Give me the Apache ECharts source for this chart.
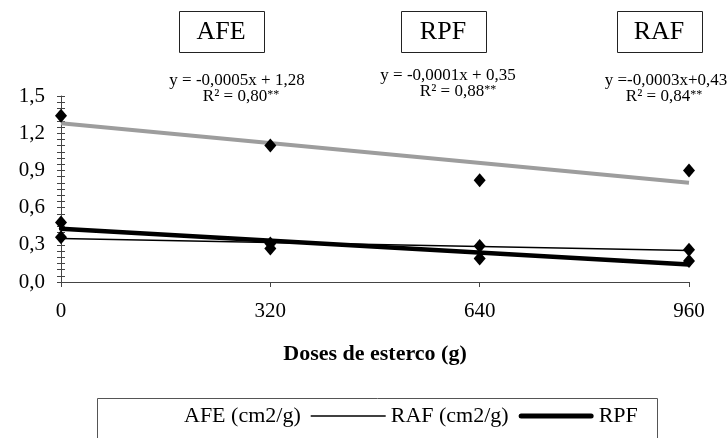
<!DOCTYPE html>
<html>
<head>
<meta charset="utf-8">
<script src="https://cdn.jsdelivr.net/npm/echarts@6/dist/echarts.min.js"></script>
<style>html,body{margin:0;padding:0;background:#fff;}#c{width:728px;height:438px;}</style>
</head>
<body>
<div id="c"></div>
<script>
// ---- data ----
var doses = [0, 320, 640, 960];
var afeObs = [1.34, 1.10, 0.82, 0.90];
var rafObs = [0.36, 0.31, 0.29, 0.26];
var rpfObs = [0.48, 0.27, 0.19, 0.17];
var trendX = [0, 960];
var afeTrend = [1.28, 0.80];
var rafTrend = [0.35, 0.254];
var rpfTrend = [0.43, 0.142];
var seriesNames = ['AFE (cm2/g)', 'RAF (cm2/g)', 'RPF'];
var boxLabels = ['AFE', 'RPF', 'RAF'];
var equations = ['y = -0,0005x + 1,28', 'y = -0,0001x + 0,35', 'y =-0,0003x+0,43'];
var r2Values = ['0,80', '0,88', '0,84'];
var yTicks = {min: 0, max: 1.5, interval: 0.3};
var xTicks = {min: 0, max: 960, interval: 320};

function pairs(xs, ys) { return xs.map(function (x, i) { return [x, ys[i]]; }); }

var FONT = '"Liberation Serif", "Times New Roman", serif';
var chart = echarts.init(document.getElementById('c'), null, {renderer: 'canvas'});

var boxCx = [221, 443, 659];
var eqCx = [237, 448, 666];
var eqY = [81, 76, 81];
var r2Cx = [241, 458, 664];
var graphics = [];
boxLabels.forEach(function (t, i) {
  graphics.push({type: 'rect', left: boxCx[i] - 42, top: 11, shape: {x: 0, y: 0, width: 85, height: 41},
    style: {fill: '#fff', stroke: '#222', lineWidth: 1}, z: 10});
  graphics.push({type: 'text', x: boxCx[i], y: 32, style: {text: t, font: '26px ' + FONT, fill: '#000',
    textAlign: 'center', textVerticalAlign: 'middle'}, z: 11});
  graphics.push({type: 'text', x: eqCx[i], y: eqY[i], style: {text: equations[i], font: '17px ' + FONT, fill: '#000',
    textAlign: 'center', textVerticalAlign: 'middle'}, z: 11});
  graphics.push({type: 'text', x: r2Cx[i], y: eqY[i] + 16, style: {
    text: 'R² = ' + r2Values[i] + '{s|**}', fontFamily: FONT, fontSize: 17, fill: '#000',
    rich: {s: {fontFamily: FONT, fontSize: 12, verticalAlign: 'top', padding: [0, 0, 4, 0]}},
    textAlign: 'center', textVerticalAlign: 'middle'}, z: 11});
});
graphics.push({type: 'rect', left: 95, top: 396, shape: {x: 0, y: 0, width: 560, height: 60},
  style: {fill: 'none', stroke: '#555', lineWidth: 1}, z: 1});

var yLabelFmt = function (v) { return v.toFixed(1).replace('.', ','); };
var thinIcon = 'path://M0 0H75V1.5H0Z';
var thickIcon = 'path://M2.5 0H72.5A2.5 2.5 0 0 1 72.5 5H2.5A2.5 2.5 0 0 1 2.5 0Z';

var option = {
  animation: false,
  backgroundColor: '#fff',
  textStyle: {fontFamily: FONT},
  grid: {left: 61, right: 39, top: 96, bottom: 156, containLabel: false},
  xAxis: {
    type: 'value', min: xTicks.min, max: xTicks.max, interval: xTicks.interval,
    name: 'Doses de esterco (g)', nameLocation: 'middle', nameGap: 61,
    nameTextStyle: {fontFamily: FONT, fontSize: 22, fontWeight: 'bold', color: '#000'},
    axisLine: {lineStyle: {color: '#444', width: 1}},
    axisTick: {show: true, length: 5, lineStyle: {color: '#444'}},
    axisLabel: {fontFamily: FONT, fontSize: 21, color: '#000', margin: 19},
    splitLine: {show: false}
  },
  yAxis: [{
    type: 'value', position: 'left', min: yTicks.min, max: yTicks.max, interval: yTicks.interval,
    axisLine: {show: true, lineStyle: {color: '#444', width: 1}},
    axisTick: {show: true, length: 4, lineStyle: {color: '#444'}},
    minorTick: {show: true, splitNumber: 6, length: 4, lineStyle: {color: '#444'}},
    axisLabel: {fontFamily: FONT, fontSize: 21, color: '#000', margin: 16, formatter: yLabelFmt},
    splitLine: {show: false}
  }, {
    type: 'value', position: 'left', min: yTicks.min, max: yTicks.max, interval: yTicks.interval,
    axisLine: {show: false},
    axisTick: {show: true, inside: true, length: 4, lineStyle: {color: '#444'}},
    minorTick: {show: true, splitNumber: 6, length: 4, lineStyle: {color: '#444'}},
    axisLabel: {show: false},
    splitLine: {show: false}
  }],
  legend: {
    left: 104, top: 405, padding: 0, itemGap: 10, itemWidth: 75, itemHeight: 14,
    textStyle: {fontFamily: FONT, fontSize: 22, color: '#000'},
    data: [
      {name: seriesNames[0], icon: thinIcon, itemStyle: {opacity: 0}},
      {name: seriesNames[1], icon: thinIcon, itemStyle: {color: '#000'}},
      {name: seriesNames[2], icon: thickIcon, itemStyle: {color: '#000'}}
    ]
  },
  series: [
    {name: seriesNames[0], type: 'line', data: pairs(trendX, afeTrend), symbol: 'none',
      lineStyle: {color: '#9d9d9d', width: 4}, itemStyle: {color: '#9d9d9d'}, z: 2},
    {name: seriesNames[1], type: 'line', data: pairs(trendX, rafTrend), symbol: 'none',
      lineStyle: {color: '#000', width: 1.5}, itemStyle: {color: '#000'}, z: 2},
    {name: seriesNames[2], type: 'line', data: pairs(trendX, rpfTrend), symbol: 'none',
      lineStyle: {color: '#000', width: 4.5, cap: 'round'}, itemStyle: {color: '#000'}, z: 3},
    {name: 'afe-obs', type: 'scatter', data: pairs(doses, afeObs), symbol: 'diamond', symbolSize: [12, 14],
      itemStyle: {color: '#000', opacity: 1}, z: 5},
    {name: 'raf-obs', type: 'scatter', data: pairs(doses, rafObs), symbol: 'diamond', symbolSize: [12, 14],
      itemStyle: {color: '#000', opacity: 1}, z: 5},
    {name: 'rpf-obs', type: 'scatter', data: pairs(doses, rpfObs), symbol: 'diamond', symbolSize: [12, 14],
      itemStyle: {color: '#000', opacity: 1}, z: 5}
  ],
  graphic: graphics
};
chart.setOption(option);
</script>
</body>
</html>
